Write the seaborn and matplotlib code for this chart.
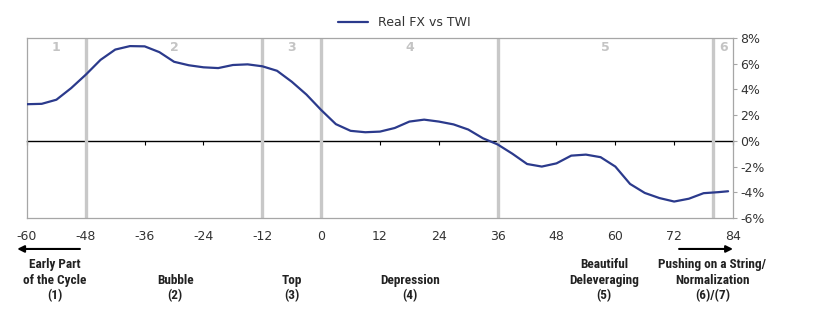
import matplotlib
matplotlib.use("Agg")
import matplotlib.pyplot as plt
import seaborn as sns
import pandas as pd
from matplotlib import font_manager
from matplotlib.transforms import blended_transform_factory

# ---- data ----
months = [-60, -57, -54, -51, -48, -45, -42, -39, -36, -33, -30, -27, -24, -21,
          -18, -15, -12, -9, -6, -3, 0, 3, 6, 9, 12, 15, 18, 21, 24, 27, 30, 33,
          36, 39, 42, 45, 48, 51, 54, 57, 60, 63, 66, 69, 72, 75, 78, 81, 83]
real_fx_vs_twi = [2.85, 2.88, 3.2, 4.1, 5.15, 6.3, 7.1, 7.37, 7.35, 6.9, 6.15, 5.88,
                  5.72, 5.66, 5.9, 5.95, 5.8, 5.45, 4.6, 3.6, 2.4, 1.3, 0.78, 0.67,
                  0.72, 1.0, 1.5, 1.65, 1.5, 1.28, 0.88, 0.2, -0.28, -1.0, -1.8,
                  -2.0, -1.75, -1.15, -1.07, -1.27, -2.0, -3.35, -4.05, -4.45,
                  -4.72, -4.5, -4.07, -3.99, -3.92]
series_name = "Real FX vs TWI"
x_ticks = [-60, -48, -36, -24, -12, 0, 12, 24, 36, 48, 60, 72, 84]
y_ticks = [-6, -4, -2, 0, 2, 4, 6, 8]
phase_bounds = [-48, -12, 0, 36, 80]
phase_nums = ["1", "2", "3", "4", "5", "6"]
phase_num_x = [-54, -30, -6, 18, 58, 82]
phase_names = ["Early Part\nof the Cycle\n(1)", "Bubble\n(2)", "Top\n(3)",
               "Depression\n(4)", "Beautiful\nDeleveraging\n(5)",
               "Pushing on a String/\nNormalization\n(6)/(7)"]
phase_name_x = [-54.3, -29.8, -6, 18.1, 57.7, 79.8]

sns.set_style("white")
plt.rcParams['font.family'] = ['DejaVu Sans']

available = {f.name for f in font_manager.fontManager.ttflist}
cond_font = None
for cand in ["Liberation Sans Narrow", "DejaVu Sans Condensed", "Roboto Condensed"]:
    if cand in available:
        cond_font = cand
        break
if cond_font is None:
    cond_kw = dict(family="Roboto", fontsize=8.6)
else:
    cond_kw = dict(family=cond_font, fontsize=9.5)

fig = plt.figure(figsize=(8.2, 3.34), dpi=100)
ax = fig.add_axes([27 / 820, 1 - 218 / 334, 706 / 820, 180 / 334])

df = pd.DataFrame({"month": months, "value": real_fx_vs_twi, "series": series_name})
sns.lineplot(data=df, x="month", y="value", hue="series", palette=["#2b3a8c"],
             linewidth=1.6, ax=ax, zorder=3)

for b in phase_bounds:
    ax.axvline(b, color="#c8c8c8", lw=2.4, zorder=1)

ax.set_xlim(-60, 84)
ax.set_ylim(-6, 8)
ax.set_xlabel("")
ax.set_ylabel("")

for s in ax.spines.values():
    s.set_color("#a6a6a6")
    s.set_linewidth(0.9)

ax.yaxis.tick_right()
ax.set_yticks(y_ticks)
ax.set_yticklabels([f"{v}%" for v in y_ticks])
ax.tick_params(axis="y", direction="out", length=3, color="#a6a6a6", pad=2,
               labelsize=9, labelcolor="#333333")

ax.set_xticks(x_ticks)
ax.set_xticklabels([str(v) for v in x_ticks])
ax.tick_params(axis="x", length=0, pad=9, labelsize=9, labelcolor="#333333")

zero_pos = (0 - y_ticks[0]) / (y_ticks[-1] - y_ticks[0])
sec = ax.secondary_xaxis(zero_pos)
sec.set_xticks(x_ticks)
sec.set_xticklabels([])
sec.tick_params(axis="x", direction="out", length=3, color="black")
sec.spines["bottom"].set_color("black")
sec.spines["bottom"].set_linewidth(1.0)

h, l = ax.get_legend_handles_labels()
ax.legend(h, l, loc="center", bbox_to_anchor=(0.535, 1.085), frameon=False,
          handlelength=2.4, fontsize=9, labelcolor="#333333")

trans = blended_transform_factory(ax.transData, ax.transAxes)
for x, t in zip(phase_num_x, phase_nums):
    ax.text(x, 0.945, t, transform=trans, ha="center", va="center",
            fontsize=9, fontweight="bold", color="#c4c4c4")

for x, t in zip(phase_name_x, phase_names):
    ax.text(x, -0.47, t, transform=trans, ha="center", va="bottom",
            fontweight="bold", color="#222222", linespacing=1.25, **cond_kw)

ax.annotate("", xy=(-62, -0.172), xytext=(-49.2, -0.172), xycoords=trans,
            textcoords=trans, annotation_clip=False,
            arrowprops=dict(arrowstyle="-|>", color="black", lw=1.5,
                            mutation_scale=10, shrinkA=0, shrinkB=0))
ax.annotate("", xy=(84, -0.172), xytext=(73, -0.172), xycoords=trans,
            textcoords=trans, annotation_clip=False,
            arrowprops=dict(arrowstyle="-|>", color="black", lw=1.5,
                            mutation_scale=10, shrinkA=0, shrinkB=0))

fig.savefig("out.png", dpi=100, facecolor="white")
